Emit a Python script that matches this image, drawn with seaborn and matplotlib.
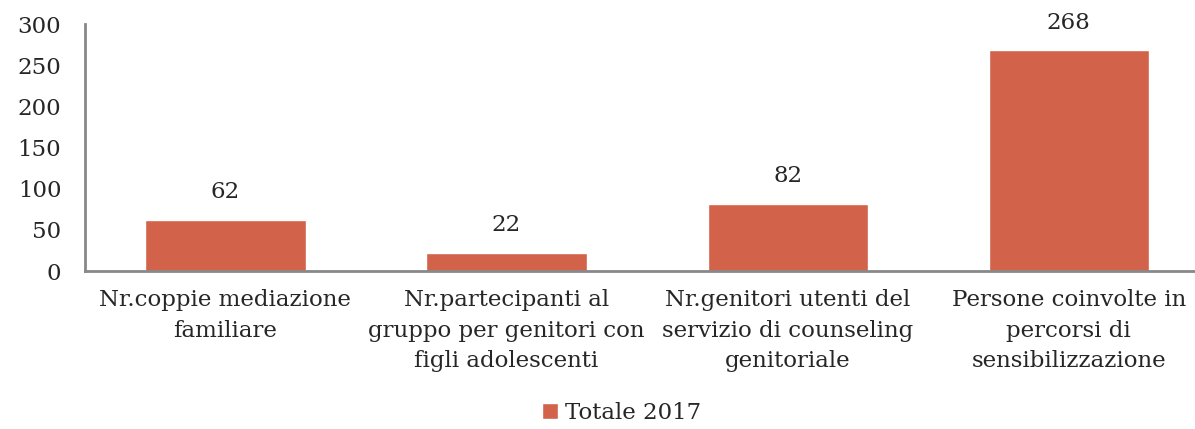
import pandas as pd
import matplotlib.pyplot as plt
import seaborn as sns

categories = [
    "Nr.coppie mediazione\nfamiliare",
    "Nr.partecipanti al\ngruppo per genitori con\nfigli adolescenti",
    "Nr.genitori utenti del\nservizio di counseling\ngenitoriale",
    "Persone coinvolte in\npercorsi di\nsensibilizzazione",
]
values = [62, 22, 82, 268]
series = "Totale 2017"

sns.set_style("white")
plt.rcParams["font.family"] = ["DejaVu Serif"]

data = pd.DataFrame({"cat": categories, "val": values, "serie": series})

fig = plt.figure(figsize=(11.95, 4.29), dpi=100)
ax = fig.add_axes([0.071, 0.368, 0.941, 0.576])
sns.barplot(data=data, x="cat", y="val", hue="serie", palette=["#D2634A"],
            width=0.57, saturation=1, ax=ax)

for c in ax.containers:
    ax.bar_label(c, padding=12, fontsize=16.5)

ax.set_ylim(0, 300)
ax.set_yticks(range(0, 301, 50))
ax.tick_params(axis="y", labelsize=16.5, length=0, pad=17)
ax.tick_params(axis="x", labelsize=16.5, length=0, pad=13)
for lab in ax.get_xticklabels():
    lab.set_linespacing(1.5)
ax.set_xlabel("")
ax.set_ylabel("")
for s in ["top", "right"]:
    ax.spines[s].set_visible(False)
for s in ["left", "bottom"]:
    ax.spines[s].set_color("#888888")
    ax.spines[s].set_linewidth(2)

ax.legend(loc="center", bbox_to_anchor=(0.477, -0.575), frameon=False,
          fontsize=16.5, handlelength=0.7, handleheight=0.7, handletextpad=0.3)

fig.savefig("out.png", dpi=100)
